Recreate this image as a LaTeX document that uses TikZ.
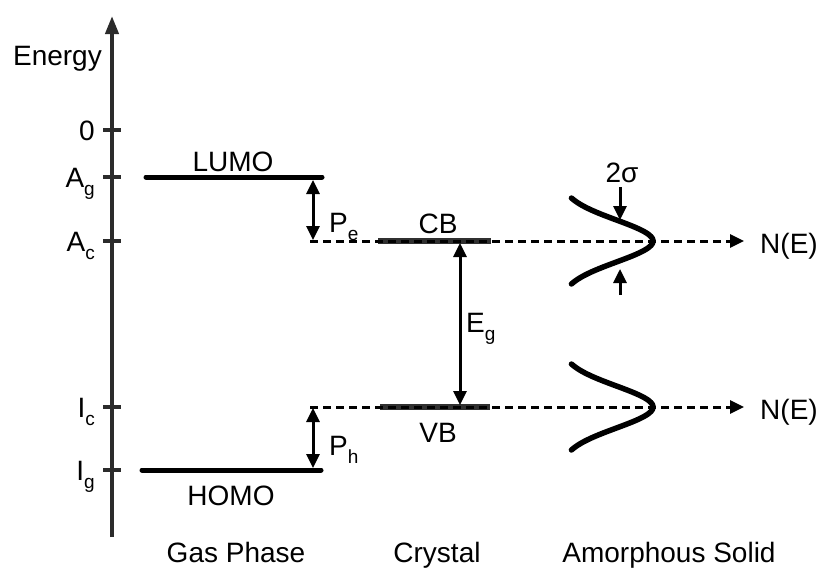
\documentclass[tikz,border=0pt]{standalone}
\usepackage{fontspec}
\setmainfont{Liberation Sans}
\usetikzlibrary{arrows.meta,positioning,calc}
\definecolor{ink}{HTML}{000000}
\definecolor{axisgray}{HTML}{2B2B2B}
\definecolor{bandgray}{HTML}{303030}
\newcommand{\lowsub}[1]{\raisebox{-8pt}{\fontsize{19}{19}\selectfont #1}}
\tikzset{
  axisline/.style={draw=axisgray, line width=4pt,
    -{Triangle[length=18pt,width=13pt]}},
  tickmark/.style={draw=axisgray, line width=3.5pt},
  levelline/.style={draw=ink, line width=5pt, line cap=round},
  bandline/.style={draw=bandgray, line width=5.5pt},
  dashline/.style={draw=ink, line width=3pt, dash pattern=on 8pt off 5pt},
  dosarrow/.style={dashline, -{Triangle[length=14pt,width=13pt]}},
  gaparrow/.style={draw=ink, line width=3pt,
    {Triangle[length=14pt,width=13pt]}-{Triangle[length=14pt,width=13pt]}},
  widtharrow/.style={draw=ink, line width=3pt, -{Triangle[length=14pt,width=13pt]}},
  dosline/.style={draw=ink, line width=5.5pt, line cap=round},
  lbl/.style={inner sep=0pt, font=\fontsize{28}{32}\selectfont, text=ink}
}

\begin{document}
\begin{tikzpicture}[x=1pt,y=-1pt]
  \useasboundingbox (0,0) rectangle (818,570);
  % energy axis
  \coordinate (axbot) at (112,537);
  \coordinate (axtop) at (112,16);
  \draw[axisline] (axbot) -- (axtop);
  \node[lbl, anchor=base east] (energy) at (102,65) {Energy};
  \foreach \y/\lab/\nm in {130/0/zero, 177/A\lowsub{g}/Ag, 241/A\lowsub{c}/Ac,
                           407/I\lowsub{c}/Ic, 470/I\lowsub{g}/Ig}{
    \draw[tickmark] (103,\y) -- (121,\y);
    \node[lbl, anchor=base east] (\nm) at (95,\y+10) {\lab};
  }

  % gas phase
  \coordinate (lumoL) at (146,177);
  \coordinate (lumoR) at (322,177);
  \coordinate (homoL) at (142,470);
  \coordinate (homoR) at (321,470);
  \draw[levelline] (lumoL) -- (lumoR);
  \draw[levelline] (homoL) -- (homoR);
  \node[lbl, anchor=base] (lumo) at (233,171) {LUMO};
  \node[lbl, anchor=base] (homo) at (231,505) {HOMO};

  % crystal bands and DOS axes
  \coordinate (acL) at (310,241);
  \coordinate (acR) at (744,241);
  \coordinate (icL) at (310,407);
  \coordinate (icR) at (744,407);
  \draw[bandline] (378,241) -- (491,241);
  \draw[bandline] (380,407) -- (490,407);
  \draw[dosarrow] (acL) -- (acR);
  \draw[dosarrow] (icL) -- (icR);
  \node[lbl, anchor=base] (cb) at (438,233) {CB};
  \node[lbl, anchor=base] (vb) at (438,442) {VB};
  \node[lbl, anchor=base west] (ne1) at (760,253) {N(E)};
  \node[lbl, anchor=base west] (ne2) at (760,419) {N(E)};

  % polarization and gap
  \coordinate (pe1) at (313,180);
  \coordinate (pe2) at (313,240);
  \coordinate (ph1) at (313,408);
  \coordinate (ph2) at (313,468);
  \coordinate (eg1) at (460,243);
  \coordinate (eg2) at (460,405);
  \draw[gaparrow] (pe1) -- (pe2);
  \draw[gaparrow] (ph1) -- (ph2);
  \draw[gaparrow] (eg1) -- (eg2);
  \node[lbl, anchor=base west] (pe) at (329,232) {P\lowsub{e}};
  \node[lbl, anchor=base west] (ph) at (329,455) {P\lowsub{h}};
  \node[lbl, anchor=base west] (eg) at (466,332) {E\lowsub{g}};

  % amorphous solid: gaussian DOS
  \foreach \yc in {241,407}{
    \draw[dosline] plot[domain=-43:43, samples=50, smooth]
      ({560+93*exp(-(\x)^2/882)}, {\yc+\x});
  }
  \coordinate (sgtop) at (620,187);
  \coordinate (sgtopend) at (620,220);
  \coordinate (sgbot) at (620,295);
  \coordinate (sgbotend) at (620,269);
  \draw[widtharrow] (sgtop) -- (sgtopend);
  \draw[widtharrow] (sgbot) -- (sgbotend);
  \node[lbl, anchor=base] (sigma) at (622,182) {2σ};

  % column titles
  \node[lbl, anchor=base] (gas) at (236,562) {Gas Phase};
  \node[lbl, anchor=base] (crys) at (437,562) {Crystal};
  \node[lbl, anchor=base] (amor) at (669,562) {Amorphous Solid};
\end{tikzpicture}
\end{document}
